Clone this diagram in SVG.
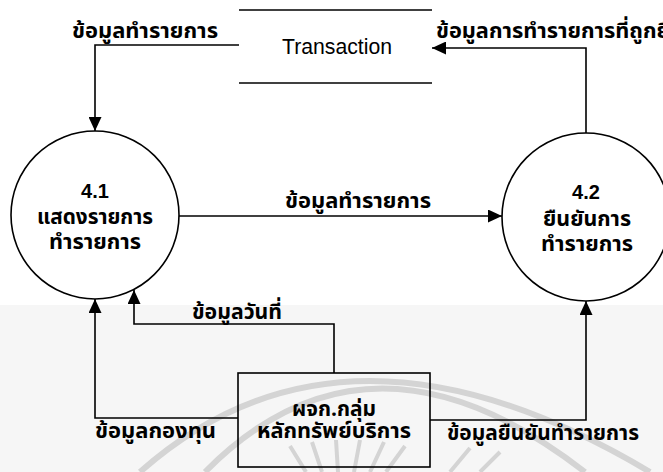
<svg xmlns="http://www.w3.org/2000/svg" width="663" height="472" viewBox="0 0 663 472">
  <style>
    .ln { fill: none; stroke: #000; stroke-width: 1.6; }
    .shape { fill: none; stroke: #000; stroke-width: 1.6; }
    .th { font-family: "Tahoma", "Noto Sans Thai", "Noto Sans", "DejaVu Sans", sans-serif; font-weight: bold; font-size: 21px; fill: #000; }
    .num { font-family: "Liberation Sans", "DejaVu Sans", sans-serif; font-weight: bold; font-size: 20px; fill: #000; }
    .en { font-family: "Liberation Sans Narrow", "Liberation Sans", "DejaVu Sans", sans-serif; font-size: 22px; fill: #000; }
    .wm { fill: none; stroke: #d4d4d4; }
  </style>
  <defs>
    <marker id="arrow" viewBox="0 0 14 13" refX="14" refY="6.5" markerWidth="14" markerHeight="13" markerUnits="userSpaceOnUse" orient="auto">
      <path d="M0,0 L14,6.5 L0,13 z" fill="#000"/>
    </marker>
  </defs>

  <!-- page background with the lighter lower band -->
  <rect x="0" y="0" width="663" height="472" fill="#fff"/>
  <rect x="0" y="305" width="663" height="167" fill="#f6f6f6"/>

  <!-- faint seal in the lower area -->
  <g id="watermark">
    <path class="wm" stroke-width="6" d="M140,472 Q345,290 650,472"/>
    <path class="wm" stroke-width="6" d="M205,472 Q370,305 585,472"/>
    <path class="wm" stroke-width="4" d="M290,446 L306,472 M312,442 L322,472 M336,440 L338,472 M360,440 L354,472 M384,442 L370,472 M405,446 L386,472 M470,448 L450,472 M500,452 L480,472"/>
  </g>

  <!-- connectors -->
  <g id="connectors">
    <polyline class="ln" points="239,45 95,45 95,131" marker-end="url(#arrow)"/>
    <polyline class="ln" points="586,133 586,48 432,48" marker-end="url(#arrow)"/>
    <line class="ln" x1="179" y1="216" x2="502" y2="216" marker-end="url(#arrow)"/>
    <polyline class="ln" points="334,373 334,324 134,324 134,290" marker-end="url(#arrow)"/>
    <polyline class="ln" points="238,418 95,418 95,299" marker-end="url(#arrow)"/>
    <polyline class="ln" points="430,420 586,420 586,301" marker-end="url(#arrow)"/>

    <text class="th" x="72" y="38" textLength="146" lengthAdjust="spacingAndGlyphs">ข้อมูลทำรายการ</text>
    <text class="th" x="436" y="38" textLength="234" lengthAdjust="spacingAndGlyphs">ข้อมูลการทำรายการที่ถูกยื</text>
    <text class="th" x="285" y="208" textLength="146" lengthAdjust="spacingAndGlyphs">ข้อมูลทำรายการ</text>
    <text class="th" x="192" y="319" textLength="90" lengthAdjust="spacingAndGlyphs">ข้อมูลวันที่</text>
    <text class="th" x="95" y="438" textLength="121" lengthAdjust="spacingAndGlyphs">ข้อมูลกองทุน</text>
    <text class="th" x="447" y="440" textLength="192" lengthAdjust="spacingAndGlyphs">ข้อมูลยืนยันทำรายการ</text>
  </g>

  <!-- data store -->
  <g id="store-transaction">
    <line class="shape" x1="239" y1="10" x2="432" y2="10"/>
    <line class="shape" x1="239" y1="83" x2="432" y2="83"/>
    <text class="en" x="282" y="54" textLength="110" lengthAdjust="spacingAndGlyphs">Transaction</text>
  </g>

  <!-- process 4.1 -->
  <g id="process-4-1">
    <circle class="shape" cx="95" cy="215" r="84"/>
    <text class="num" x="95" y="198" text-anchor="middle">4.1</text>
    <text class="th" x="37" y="224" textLength="116" lengthAdjust="spacingAndGlyphs">แสดงรายการ</text>
    <text class="th" x="49" y="249" textLength="92" lengthAdjust="spacingAndGlyphs">ทำรายการ</text>
  </g>

  <!-- process 4.2 -->
  <g id="process-4-2">
    <circle class="shape" cx="586" cy="217" r="84"/>
    <text class="num" x="586" y="199" text-anchor="middle">4.2</text>
    <text class="th" x="543" y="226" textLength="88" lengthAdjust="spacingAndGlyphs">ยืนยันการ</text>
    <text class="th" x="541" y="251" textLength="92" lengthAdjust="spacingAndGlyphs">ทำรายการ</text>
  </g>

  <!-- external entity -->
  <g id="entity-securities">
    <rect class="shape" x="238" y="373" width="192" height="94"/>
    <text class="th" x="292" y="416" textLength="84" lengthAdjust="spacingAndGlyphs">ผจก.กลุ่ม</text>
    <text class="th" x="257" y="438" textLength="154" lengthAdjust="spacingAndGlyphs">หลักทรัพย์บริการ</text>
  </g>
</svg>
